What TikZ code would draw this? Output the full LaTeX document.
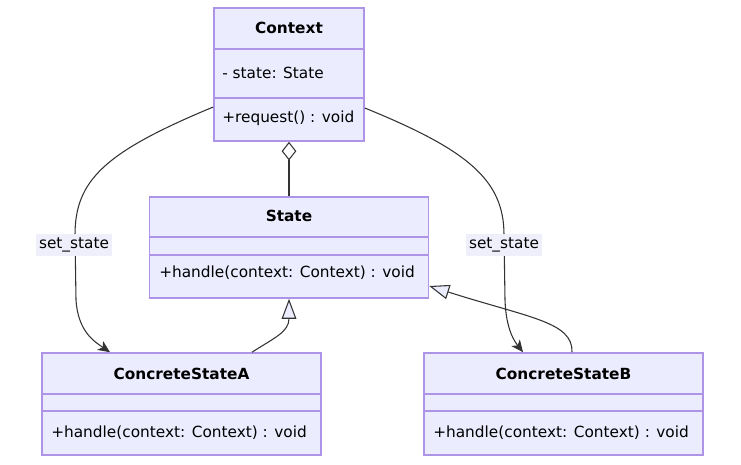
\documentclass[tikz,border=0pt]{standalone}
\usepackage{fontspec}
\setmainfont{DejaVu Sans}
\usetikzlibrary{arrows.meta}
\definecolor{boxfill}{HTML}{ECECFF}
\definecolor{boxline}{HTML}{AE94E6}
\definecolor{edgeline}{HTML}{333333}
\definecolor{lblfill}{HTML}{EFEFFC}
\begin{document}
\begin{tikzpicture}[x=0.75pt,y=-0.75pt,
  umlbox/.style={draw=boxline,fill=boxfill,line width=1.2pt,inner sep=0pt,rectangle},
  divider/.style={draw=boxline,line width=1.2pt},
  title/.style={font=\fontsize{11.5pt}{13pt}\selectfont\bfseries,text=black,inner sep=0pt},
  member/.style={font=\fontsize{11.5pt}{13pt}\selectfont,text=black,inner sep=0pt,anchor=west},
  rel/.style={draw=edgeline,line width=0.8pt},
  lbl/.style={font=\fontsize{11.5pt}{13pt}\selectfont,fill=lblfill,inner xsep=2pt,inner ysep=3pt,text=black},
  inherit/.style={rel,-{Triangle[length=15pt,width=11pt,fill=boxfill]}},
  assoc/.style={rel,-{Stealth[length=9pt,width=8pt,inset=2.5pt]}},
  aggr/.style={rel,{Diamond[length=14pt,width=11pt,fill=white]}-}]
\useasboundingbox (0,0) rectangle (741,464);

% class boxes
\node[umlbox,minimum width=150*0.75pt,minimum height=133*0.75pt] (ctx) at (289,74.5) {};
\node[umlbox,minimum width=279*0.75pt,minimum height=101*0.75pt] (st) at (289,247.5) {};
\node[umlbox,minimum width=279*0.75pt,minimum height=102*0.75pt] (ca) at (181.5,404) {};
\node[umlbox,minimum width=279*0.75pt,minimum height=102*0.75pt] (cb) at (563.5,404) {};

% compartment separators
\draw[divider] (ctx.west |- 0,49) -- (ctx.east |- 0,49);
\draw[divider] (ctx.west |- 0,98) -- (ctx.east |- 0,98);
\draw[divider] (st.west |- 0,237) -- (st.east |- 0,237);
\draw[divider] (st.west |- 0,255) -- (st.east |- 0,255);
\draw[divider] (ca.west |- 0,394) -- (ca.east |- 0,394);
\draw[divider] (ca.west |- 0,411) -- (ca.east |- 0,411);
\draw[divider] (cb.west |- 0,394) -- (cb.east |- 0,394);
\draw[divider] (cb.west |- 0,411) -- (cb.east |- 0,411);

% class texts
\node[title] (ctxT) at (289,28) {Context};
\node[member] (ctxA) at (222,73) {- state: State};
\node[member] (ctxM) at (222,118) {+request() : void};
\node[title] (stT) at (289,216) {State};
\node[member] (stM) at (159,273) {+handle(context: Context) : void};
\node[title] (caT) at (181.5,374) {ConcreteStateA};
\node[member] (caM) at (51,433) {+handle(context: Context) : void};
\node[title] (cbT) at (563.5,374) {ConcreteStateB};
\node[member] (cbM) at (433,433) {+handle(context: Context) : void};

% aggregation Context <>-- State
\draw[aggr] (ctx.south) -- (st.north);

% inheritance
\draw[inherit] (ca.north -| 252,0) .. controls (274,338) and (289,332) .. (st.south -| 289,0);
\draw[inherit] (cb.north -| 572,0) .. controls (573,322) and (530,318) .. (st.east |- 0,286);

% set_state associations
\draw[assoc] (ctx.west |- 0,107) .. controls (105,152) and (75,180) .. (75,235)
  -- (76,300) .. controls (78,332) and (95,342) .. (ca.north -| 110,0);
\draw[assoc] (ctx.east |- 0,108) .. controls (468,150) and (504,180) .. (504,235)
  -- (505,300) .. controls (506,330) and (515,342) .. (cb.north -| 523,0);

\node[lbl] (l1) at (74,245) {set\_state};
\node[lbl] (l2) at (504,245) {set\_state};
\end{tikzpicture}
\end{document}
